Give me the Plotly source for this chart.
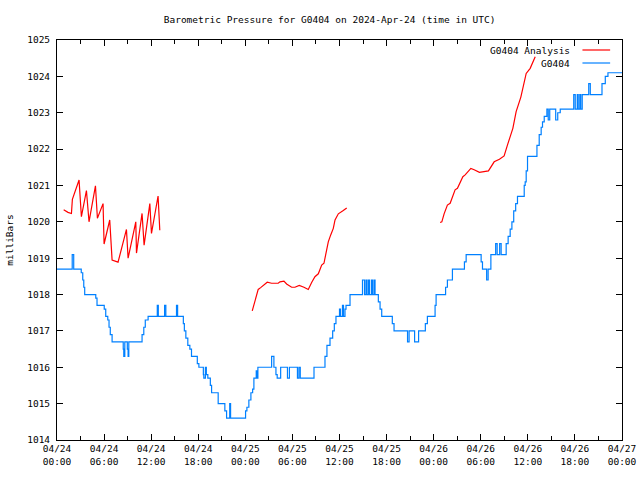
import plotly.graph_objects as go
import pandas as pd

title_text = "Barometric Pressure for G0404 on 2024-Apr-24 (time in UTC)"
y_label = "milliBars"
start_time = "2024-04-24 00:00"

# G0404 observations (hours since start, value in mbar) - step series
obs_hours = [0.00, 1.94, 2.13, 3.09, 3.28, 3.41, 3.53, 4.94, 5.10, 6.02, 6.21, 6.47, 6.63, 6.79, 7.02,
             8.44, 8.51, 8.64, 8.96, 9.06, 9.15, 10.84, 11.06, 11.25, 11.61, 12.78, 12.91, 13.71, 13.87,
             15.23, 15.37, 16.10, 16.23, 16.42, 16.67, 16.93, 17.14, 17.88, 18.08, 18.65, 18.71, 18.91,
             19.03, 19.22, 19.54, 19.70, 20.54, 21.39, 21.61, 22.01, 22.12, 24.03, 24.20, 24.45, 24.71,
             24.93, 25.09, 25.39, 25.47, 25.60, 27.35, 27.64, 27.90, 28.06, 28.50, 29.37, 29.62, 30.64,
             30.83, 31.00, 32.75, 34.15, 34.40, 34.79, 35.13, 35.34, 35.55, 36.00, 36.13, 36.38, 36.51,
             36.70, 36.83, 37.34, 38.93, 39.19, 39.38, 39.51, 39.70, 39.83, 40.08, 40.21, 40.40, 40.53,
             40.95, 41.17, 41.38, 42.73, 42.95, 44.67, 44.87, 45.57, 46.08, 46.94, 47.20, 48.18, 48.31,
             49.52, 49.75, 50.39, 51.92, 52.14, 54.05, 54.22, 54.75, 54.94, 55.29, 55.90, 56.09, 56.41,
             56.60, 57.24, 57.49, 57.75, 57.97, 58.20, 58.45, 58.68, 59.54, 59.66, 59.79, 59.96, 61.16,
             61.45, 61.70, 61.87, 62.09, 62.43, 62.60, 62.79, 63.55, 63.81, 64.13, 65.85, 66.04, 66.30,
             66.42, 66.62, 66.74, 66.93, 67.76, 67.96, 69.45, 69.87, 70.21, 72.00]
obs_values = [1018.7, 1019.1, 1018.7, 1018.6, 1018.4, 1018.2, 1018.0, 1017.9, 1017.7, 1017.6, 1017.4,
              1017.3, 1017.1, 1016.9, 1016.7, 1016.5, 1016.3, 1016.7, 1016.5, 1016.3, 1016.7, 1016.9,
              1017.1, 1017.3, 1017.4, 1017.7, 1017.4, 1017.7, 1017.4, 1017.7, 1017.4, 1017.2, 1017.0,
              1016.8, 1016.6, 1016.5, 1016.3, 1016.1, 1016.0, 1015.8, 1015.7, 1016.0, 1015.8, 1015.7,
              1015.5, 1015.3, 1015.0, 1014.8, 1014.6, 1015.0, 1014.6, 1014.8, 1014.9, 1015.1, 1015.3,
              1015.4, 1015.7, 1015.9, 1015.7, 1016.0, 1016.3, 1016.0, 1015.8, 1015.7, 1016.0, 1015.7,
              1016.0, 1015.7, 1016.0, 1015.7, 1016.0, 1016.3, 1016.6, 1016.8, 1017.0, 1017.2, 1017.4,
              1017.6, 1017.4, 1017.7, 1017.4, 1017.6, 1017.7, 1018.0, 1018.4, 1018.0, 1018.4, 1018.0,
              1018.4, 1018.0, 1018.4, 1018.0, 1018.4, 1018.0, 1017.8, 1017.6, 1017.4, 1017.2, 1017.0,
              1016.7, 1017.0, 1016.7, 1017.0, 1017.2, 1017.4, 1017.7, 1018.0, 1018.2, 1018.4, 1018.7,
              1018.9, 1019.1, 1018.9, 1018.7, 1018.4, 1018.7, 1019.1, 1019.4, 1019.1, 1019.4, 1019.1,
              1019.4, 1019.6, 1019.8, 1020.0, 1020.3, 1020.5, 1020.7, 1021.0, 1021.1, 1021.4, 1021.8,
              1022.1, 1022.4, 1022.6, 1022.75, 1022.9, 1023.1, 1022.8, 1023.1, 1022.8, 1023.0, 1023.1,
              1023.5, 1023.1, 1023.5, 1023.1, 1023.5, 1023.1, 1023.5, 1023.8, 1023.5, 1023.8, 1024.0,
              1024.1, 1024.1]

# G0404 Analysis, three segments
ana1_hours = [0.85, 1.40, 1.84, 1.96, 2.81, 3.11, 3.75, 4.08, 4.90, 5.15, 5.87, 6.00, 6.72, 7.02, 7.78,
              8.85, 9.06, 10.04, 10.13, 10.84, 11.10, 11.83, 12.04, 12.88, 13.10]
ana1_values = [1020.33, 1020.26, 1020.23, 1020.62, 1021.15, 1020.14, 1020.86, 1020.0, 1020.99, 1020.1,
               1020.5, 1019.39, 1020.05, 1018.95, 1018.89, 1019.79, 1019.0, 1020.0, 1019.14, 1020.23,
               1019.36, 1020.5, 1019.68, 1020.71, 1019.77]
ana2_hours = [24.88, 25.64, 25.95, 26.28, 26.79, 27.35, 28.19, 28.41, 28.92, 29.26, 29.90, 30.32, 30.87,
              31.47, 32.02, 32.45, 32.87, 33.30, 33.73, 34.02, 34.28, 34.57, 34.88, 35.21, 35.43, 35.85,
              36.48, 36.92]
ana2_values = [1017.55, 1018.14, 1018.19, 1018.24, 1018.34, 1018.31, 1018.31, 1018.35, 1018.37, 1018.29,
               1018.2, 1018.2, 1018.25, 1018.2, 1018.14, 1018.33, 1018.49, 1018.57, 1018.81, 1018.86,
               1019.13, 1019.45, 1019.64, 1019.82, 1020.05, 1020.22, 1020.31, 1020.38]
ana3_hours = [48.82, 49.04, 49.33, 49.75, 50.10, 50.73, 51.03, 51.72, 52.01, 52.74, 53.16, 53.83, 54.98,
              55.71, 56.38, 56.98, 57.40, 57.84, 58.09, 58.51, 58.94, 59.11, 59.79, 60.30, 60.94]
ana3_values = [1019.98, 1020.0, 1020.22, 1020.46, 1020.51, 1020.88, 1020.92, 1021.24, 1021.29, 1021.47,
               1021.43, 1021.36, 1021.4, 1021.65, 1021.72, 1021.81, 1022.11, 1022.42, 1022.57, 1023.03,
               1023.35, 1023.43, 1024.08, 1024.22, 1024.54]

series_names = ["G0404 Analysis", "G0404"]
series_colors = ["#ff0000", "#0080ff"]

base = pd.Timestamp(start_time)


def to_time(hours):
    return [base + pd.Timedelta(hours=h) for h in hours]


ana_x, ana_y = [], []
for hs, vs in [(ana1_hours, ana1_values), (ana2_hours, ana2_values), (ana3_hours, ana3_values)]:
    if ana_x:
        ana_x.append(None)
        ana_y.append(None)
    ana_x += to_time(hs)
    ana_y += vs

mono = "DejaVu Sans Mono"
fs = 9.5

fig = go.Figure()
fig.add_trace(go.Scatter(x=ana_x, y=ana_y, mode="lines", name=series_names[0],
                         line=dict(color=series_colors[0], width=1.2), connectgaps=False,
                         showlegend=False))
fig.add_trace(go.Scatter(x=to_time(obs_hours), y=obs_values, mode="lines", name=series_names[1],
                         line=dict(color=series_colors[1], width=1.2, shape="hv"),
                         showlegend=False))

# legend drawn gnuplot-style (text then line sample)
legend_y = [0.975, 0.9425]
for name, color, ly in zip(series_names, series_colors, legend_y):
    fig.add_annotation(x=0.912, y=ly, xref="paper", yref="paper", text=name, showarrow=False,
                       xanchor="right", yanchor="middle", font=dict(family=mono, size=fs, color="black"))
    fig.add_shape(type="line", xref="paper", yref="paper", x0=0.930, x1=0.979, y0=ly, y1=ly,
                  line=dict(color=color, width=1.2))

fig.update_layout(
    width=640, height=480,
    margin=dict(l=57, r=18, t=40, b=40, autoexpand=False),
    paper_bgcolor="white", plot_bgcolor="white",
    font=dict(family=mono, size=fs, color="black"),
    title=dict(text=title_text, x=0.515, xanchor="center", y=1 - 20 / 480, yanchor="middle",
               yref="container", font=dict(family=mono, size=fs, color="black")),
    xaxis=dict(
        type="date",
        range=[base, base + pd.Timedelta(hours=72)],
        tick0=base, dtick=6 * 3600 * 1000,
        tickformat="%m/%d<br>%H:%M",
        ticks="inside", ticklen=6, tickcolor="black", tickwidth=1,
        minor=dict(dtick=3 * 3600 * 1000, ticks="inside", ticklen=4, tickcolor="black"),
        showline=True, linecolor="black", linewidth=1, mirror="ticks",
        showgrid=False, zeroline=False, automargin=False,
        tickfont=dict(family=mono, size=fs),
    ),
    yaxis=dict(
        range=[1014, 1025], dtick=1, tick0=1014,
        ticks="inside", ticklen=6, tickcolor="black", tickwidth=1,
        showline=True, linecolor="black", linewidth=1, mirror="ticks",
        showgrid=False, zeroline=False, automargin=False,
        ticklabelstandoff=4,
        title=dict(text=y_label, standoff=11, font=dict(family=mono, size=fs)),
        tickfont=dict(family=mono, size=fs),
    ),
)

fig.write_html("out.html")
